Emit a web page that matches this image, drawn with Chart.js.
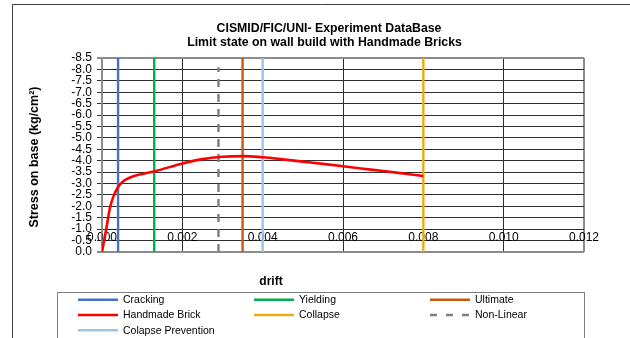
<!DOCTYPE html>
<html>
<head>
<meta charset="utf-8">
<script src="https://cdn.jsdelivr.net/npm/chart.js@4.4.1/dist/chart.umd.min.js"></script>
<style>
  html, body { margin: 0; padding: 0; background: #ffffff; }
  #wrap { position: relative; width: 630px; height: 338px; }
  canvas { display: block; }
</style>
</head>
<body>
<div id="wrap"><canvas id="c" width="630" height="338"></canvas></div>
<script>
// ---- Data ----
const titleLines = ['CISMID/FIC/UNI- Experiment DataBase', 'Limit state on wall build with Handmade Bricks'];
const xTitle = 'drift';
const yTitle = 'Stress on base (kg/cm²)';

// Handmade Brick curve (drift, stress on base)
const drift  = [0, 0.0001, 0.0002, 0.0003, 0.0004, 0.0005, 0.0006, 0.0008, 0.001, 0.0013, 0.002, 0.0025, 0.003, 0.0035, 0.004, 0.0045, 0.005, 0.0055, 0.006, 0.0065, 0.007, 0.0075, 0.008];
const stress = [0, -0.95, -1.95, -2.5, -2.85, -3.05, -3.18, -3.33, -3.42, -3.53, -3.88, -4.07, -4.17, -4.2, -4.15, -4.06, -3.96, -3.86, -3.76, -3.65, -3.55, -3.44, -3.33];

// Limit state vertical lines
const limitNames = ['Cracking', 'Yielding', 'Ultimate', 'Collapse', 'Non-Linear', 'Colapse Prevention'];
const limitDrift = [0.0004, 0.0013, 0.0035, 0.008, 0.0029, 0.004];
const limitTop   = [-8.5, -8.5, -8.5, -8.5, -8.1, -8.5];

// Axis ranges / tick steps
const yMin = -8.5, yMax = 0, yStep = 0.5;
const xMin = 0, xMax = 0.012, xStep = 0.002;
const xAxisCross = -1.0;

// ---- Styles ----
const colors = {
  'Cracking': '#4472C4',
  'Yielding': '#00B050',
  'Ultimate': '#C55A11',
  'Handmade Brick': '#FF0000',
  'Collapse': '#E8AE0C',
  'Non-Linear': '#7F7F7F',
  'Colapse Prevention': '#9DC3E6'
};
const legendOrder = ['Cracking', 'Yielding', 'Ultimate', 'Handmade Brick', 'Collapse', 'Non-Linear', 'Colapse Prevention'];

const datasets = [];
datasets.push({
  label: 'Handmade Brick',
  data: drift.map((d, i) => ({ x: d, y: stress[i] })),
  borderColor: colors['Handmade Brick'],
  borderWidth: 2.6,
  cubicInterpolationMode: 'monotone',
  pointRadius: 0,
  showLine: true,
  order: -1
});
limitNames.forEach((name, i) => {
  datasets.push({
    label: name,
    data: [{ x: limitDrift[i], y: 0 }, { x: limitDrift[i], y: limitTop[i] }],
    borderColor: colors[name],
    borderWidth: 2.4,
    borderDash: name === 'Non-Linear' ? [8, 7] : [],
    pointRadius: 0,
    showLine: true,
    order: 1
  });
});

const FONT = "'Liberation Sans', Arial, sans-serif";

const decor = {
  id: 'decor',
  afterDraw(chart) {
    const ctx = chart.ctx;
    const ca = chart.chartArea;
    ctx.save();
    // outer frame
    ctx.strokeStyle = '#404040';
    ctx.lineWidth = 1;
    ctx.beginPath();
    ctx.moveTo(12.5, 338);
    ctx.lineTo(12.5, 4.5);
    ctx.lineTo(630, 4.5);
    ctx.stroke();

    // title
    ctx.fillStyle = '#000';
    ctx.textAlign = 'center';
    ctx.textBaseline = 'middle';
    ctx.font = 'bold 12.3px ' + FONT;
    ctx.fillText(titleLines[0], 329, 28.5);
    ctx.fillText(titleLines[1], 324.5, 43);

    // x title
    ctx.font = 'bold 12px ' + FONT;
    ctx.fillText(xTitle, 271, 282);

    // y title
    ctx.save();
    ctx.translate(35, (ca.top + ca.bottom) / 2 + 2);
    ctx.rotate(-Math.PI / 2);
    ctx.font = 'bold 12.5px ' + FONT;
    ctx.fillText(yTitle, 0, 0);
    ctx.restore();

    // legend box
    ctx.strokeStyle = '#7f7f7f';
    ctx.lineWidth = 1;
    ctx.strokeRect(57.5, 292.5, 527, 60);

    const colX = [78, 254, 430];
    const rowY = [299.7, 315, 330.3];
    ctx.font = '10.5px ' + FONT;
    ctx.textAlign = 'left';
    legendOrder.forEach((name, i) => {
      const cx = colX[i % 3];
      const cy = rowY[Math.floor(i / 3)];
      ctx.strokeStyle = colors[name];
      ctx.lineWidth = 2.6;
      ctx.setLineDash(name === 'Non-Linear' ? [7, 9] : []);
      ctx.beginPath();
      ctx.moveTo(cx, cy);
      ctx.lineTo(cx + 40, cy);
      ctx.stroke();
      ctx.setLineDash([]);
      ctx.fillStyle = '#000';
      ctx.fillText(name, cx + 45, cy + 0.5);
    });
    ctx.restore();
  }
};

const edgeGray = '#8c8c8c';
const gridDark = '#2e2e2e';

new Chart(document.getElementById('c'), {
  type: 'scatter',
  data: { datasets },
  options: {
    responsive: false,
    animation: false,
    devicePixelRatio: 1,
    layout: { padding: { left: 0, right: 46, top: 58, bottom: 86 } },
    plugins: {
      legend: { display: false },
      title: { display: false },
      tooltip: { enabled: false }
    },
    scales: {
      x: {
        type: 'linear',
        position: { y: xAxisCross },
        min: xMin,
        max: xMax,
        border: { display: false },
        grid: {
          drawTicks: false,
          lineWidth: (c) => (c.tick && (c.tick.value === xMax)) ? 2 : 1,
          color: (c) => (c.tick && (c.tick.value === xMin || c.tick.value === xMax)) ? edgeGray : gridDark
        },
        ticks: {
          stepSize: xStep,
          autoSkip: false,
          maxRotation: 0,
          padding: 1,
          color: '#000',
          font: { family: FONT, size: 12 },
          callback: (v) => Number(v).toFixed(3)
        }
      },
      y: {
        type: 'linear',
        position: 'left',
        min: yMin,
        max: yMax,
        reverse: true,
        afterFit: (s) => { s.width = 102; },
        border: { display: true, color: edgeGray, width: 1.5 },
        grid: {
          drawTicks: true,
          tickLength: 5,
          lineWidth: (c) => (c.tick && (c.tick.value === yMin || c.tick.value === yMax)) ? 2 : 1,
          color: (c) => (c.tick && (c.tick.value === yMin || c.tick.value === yMax)) ? edgeGray : gridDark
        },
        ticks: {
          stepSize: yStep,
          autoSkip: false,
          padding: 5,
          color: '#000',
          font: { family: FONT, size: 12 },
          callback: (v) => Number(v).toFixed(1)
        }
      }
    }
  },
  plugins: [decor]
});
</script>
</body>
</html>
